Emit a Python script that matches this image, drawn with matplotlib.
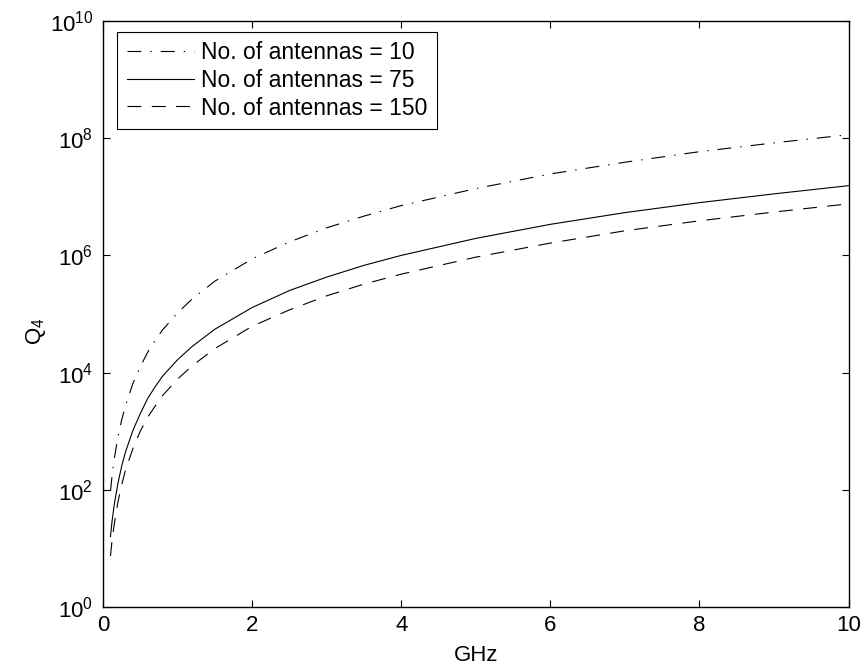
import numpy as np
import matplotlib
matplotlib.use("Agg")
import matplotlib.pyplot as plt
from matplotlib.ticker import NullLocator

# frequency grid (GHz) and log10(Q_4) for each antenna count
freq_ghz = [0.1, 0.12, 0.15, 0.2, 0.25, 0.3, 0.4, 0.5, 0.6, 0.7, 0.8, 1.0,
            1.2, 1.5, 2.0, 2.5, 3.0, 3.5, 4.0, 5.0, 6.0, 7.0, 8.0, 9.0, 10.0]
q4_exp_10 = [1.98, 2.22, 2.52, 2.90, 3.19, 3.43, 3.81, 4.10, 4.35, 4.55, 4.73, 5.02,
             5.26, 5.56, 5.94, 6.23, 6.47, 6.67, 6.85, 7.14, 7.39, 7.59, 7.77, 7.92, 8.06]
q4_exp_75 = [1.20, 1.45, 1.74, 2.11, 2.40, 2.64, 3.01, 3.30, 3.56, 3.76, 3.94, 4.22,
             4.45, 4.74, 5.11, 5.40, 5.63, 5.83, 6.00, 6.29, 6.53, 6.73, 6.90, 7.05, 7.19]
q4_exp_150 = [0.87, 1.12, 1.41, 1.79, 2.08, 2.33, 2.70, 3.00, 3.24, 3.43, 3.61, 3.89,
              4.12, 4.41, 4.79, 5.07, 5.31, 5.51, 5.68, 5.97, 6.21, 6.42, 6.59, 6.74, 6.88]

labels = ["No. of antennas = 10", "No. of antennas = 75", "No. of antennas = 150"]
y_ticks = [1e0, 1e2, 1e4, 1e6, 1e8, 1e10]
x_ticks = [0, 2, 4, 6, 8, 10]

plt.rcParams['font.family'] = ['Liberation Sans', 'DejaVu Sans']
plt.rcParams['mathtext.default'] = 'regular'
plt.rcParams['lines.scale_dashes'] = False

fig = plt.figure(figsize=(8.62, 6.71), dpi=100)
ax = fig.add_axes([0.1195, 0.0954, 0.8649, 0.8733])

f = np.array(freq_ghz)
ax.plot(f, 10 ** np.array(q4_exp_10), color="black", linewidth=0.8,
        dashes=(10, 6.5, 1, 6.5), label=labels[0])
ax.plot(f, 10 ** np.array(q4_exp_75), color="black", linewidth=0.8,
        linestyle="-", label=labels[1])
ax.plot(f, 10 ** np.array(q4_exp_150), color="black", linewidth=0.8,
        dashes=(10, 7.5), label=labels[2])

ax.set_yscale("log")
ax.set_xlim(0, 10)
ax.set_ylim(1e0, 1e10)
ax.set_xticks(x_ticks)
ax.set_yticks(y_ticks)
ax.yaxis.set_minor_locator(NullLocator())
ax.tick_params(which="both", direction="in", top=True, right=True,
               length=5, width=0.8, labelsize=16, pad=6)
ax.tick_params(axis="y", pad=7)
for spine in ax.spines.values():
    spine.set_linewidth(1.0)

ax.set_xlabel("GHz", fontsize=16, labelpad=6)
ax.set_ylabel("$Q_4$", fontsize=16)
ax.yaxis.set_label_coords(-0.074, 0.47)

leg = ax.legend(loc="upper left", bbox_to_anchor=(0.0188, 0.9817),
                borderaxespad=0, fontsize=16.5, handlelength=2.95,
                handletextpad=0.3, borderpad=0.42, labelspacing=0.2,
                fancybox=False, framealpha=1, edgecolor="black")
leg.get_frame().set_linewidth(0.8)

fig.savefig("out.png", dpi=100)
